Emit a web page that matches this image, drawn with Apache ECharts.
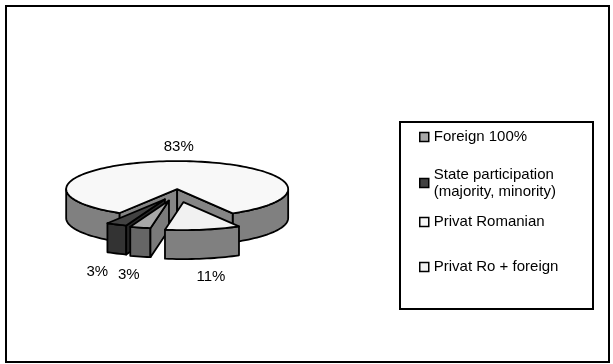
<!DOCTYPE html>
<html>
<head>
<meta charset="utf-8">
<script src="https://cdn.jsdelivr.net/npm/echarts@6/dist/echarts.min.js"></script>
<style>
  html, body { margin: 0; padding: 0; background: #fff; }
  #chart { width: 613px; height: 364px; }
</style>
</head>
<body>
<div id="chart"></div>
<script>
// Ownership structure shares (percent)
const categories = ['Foreign 100%', 'State participation (majority, minority)', 'Privat Romanian', 'Privat Ro + foreign'];
const shares = [3, 3, 83, 11];

// Slice styling: top face, outer rim, cut walls, explosion (fraction of radius)
const topColors = ['#a8a8a8', '#424242', '#f8f8f8', '#f1f1f1'];
const rimColors = ['#666666', '#333333', '#808080', '#808080'];
const wallColors = ['#7a7a7a', '#262626', '#858585', '#858585'];
const explode = [0.28, 0.25, 0.14, 0.33];

// Legend row centres (first text line)
const legendRowY = [137, 183, 222, 267];

const PIE = { cx: 177, cy: 193, rx: 111, ry: 28, depth: 29, startAngle: 99.6 };
const FONT_FAMILY = '"Liberation Sans", Arial, sans-serif';
const FONT = '15px ' + FONT_FAMILY;

const total = shares.reduce((s, v) => s + v, 0);
const angles = [];
let acc = PIE.startAngle;
shares.forEach(v => {
  const a = acc, b = acc + v / total * 360;
  angles.push([a, b]);
  acc = b;
});

const rad = d => d * Math.PI / 180;

function sliceCenter(i) {
  const m = rad((angles[i][0] + angles[i][1]) / 2);
  return [PIE.cx + explode[i] * PIE.rx * Math.cos(m), PIE.cy + explode[i] * PIE.ry * Math.sin(m)];
}
function pt(c, t, dy) {
  return [c[0] + PIE.rx * Math.cos(rad(t)), c[1] + PIE.ry * Math.sin(rad(t)) + (dy || 0)];
}
function arc(c, a, b, dy) {
  const n = Math.max(2, Math.ceil(Math.abs(b - a) / 2));
  const out = [];
  for (let k = 0; k <= n; k++) out.push(pt(c, a + (b - a) * k / n, dy));
  return out;
}
function poly(points, fill) {
  return {
    type: 'polygon',
    shape: { points: points },
    style: { fill: fill, stroke: '#000', lineWidth: 1.8, lineJoin: 'round' }
  };
}

function renderSlice(i) {
  const [a, b] = angles[i];
  const c = sliceCenter(i);
  const d = PIE.depth;
  const children = [];
  // front-facing outer rim
  for (let k = -1; k <= 2; k++) {
    const lo = Math.max(a, k * 360), hi = Math.min(b, k * 360 + 180);
    if (hi > lo) {
      const top = arc(c, lo, hi, 0);
      const bottom = arc(c, hi, lo, d);
      children.push(poly(top.concat(bottom), rimColors[i]));
    }
  }
  // radial cut walls that face the viewer
  const cb = [c[0], c[1] + d];
  if (Math.cos(rad(a)) < 0) children.push(poly([c, pt(c, a), pt(c, a, d), cb], wallColors[i]));
  if (Math.cos(rad(b)) > 0) children.push(poly([c, pt(c, b), pt(c, b, d), cb], wallColors[i]));
  // top face
  children.push(poly([c].concat(arc(c, a, b, 0)), topColors[i]));
  // percentage label
  const m = (a + b) / 2;
  const s = Math.sin(rad(m));
  const lx = c[0] + Math.cos(rad(m)) * PIE.rx * 1.4;
  const ly = c[1] + s * PIE.ry + (s > 0 ? d + 18 : -14);
  children.push({
    type: 'text',
    x: lx, y: ly,
    style: { text: Math.round(shares[i] / total * 100) + '%', fill: '#000', font: FONT, align: 'center', verticalAlign: 'middle' }
  });
  return { type: 'group', children: children };
}

// stacking order: slices further back are drawn first
const depthRank = angles
  .map((ab, i) => ({ i, y: sliceCenter(i)[1] + Math.sin(rad((ab[0] + ab[1]) / 2)) * PIE.ry }))
  .sort((p, q) => p.y - q.y)
  .map(p => p.i);

const series = categories.map((name, i) => ({
  type: 'custom',
  name: name,
  coordinateSystem: 'none',
  z: 2 + depthRank.indexOf(i),
  silent: true,
  itemStyle: { color: topColors[i], borderColor: '#000', borderWidth: 1.5 },
  data: [shares[i]],
  renderItem: () => renderSlice(i)
}));

const legends = categories.map((name, i) => {
  const twoLine = name.indexOf(' (') >= 0;
  const text = { fontFamily: FONT_FAMILY, fontSize: 15, color: '#000', lineHeight: 17 };
  if (twoLine) text.padding = [17, 0, 0, 0];
  return {
    data: [name],
    orient: 'vertical',
    left: 419,
    top: twoLine ? legendRowY[i] - 25.5 : legendRowY[i] - 8.5,
    padding: 0,
    icon: 'rect',
    itemWidth: 9,
    itemHeight: 9,
    selectedMode: false,
    itemStyle: { borderColor: '#000', borderWidth: 1.5 },
    formatter: n => n.replace(' (', '\n('),
    textStyle: text
  };
});

const chart = echarts.init(document.getElementById('chart'), null, { renderer: 'canvas' });
chart.setOption({
  animation: false,
  backgroundColor: '#fff',
  graphic: [
    { type: 'rect', z: -10, shape: { x: 6, y: 6, width: 603, height: 356 }, style: { fill: '#fff', stroke: '#000', lineWidth: 2 } },
    { type: 'rect', z: -5, shape: { x: 400, y: 122, width: 193, height: 187 }, style: { fill: '#fff', stroke: '#000', lineWidth: 2 } }
  ],
  legend: legends,
  series: series
});
</script>
</body>
</html>
